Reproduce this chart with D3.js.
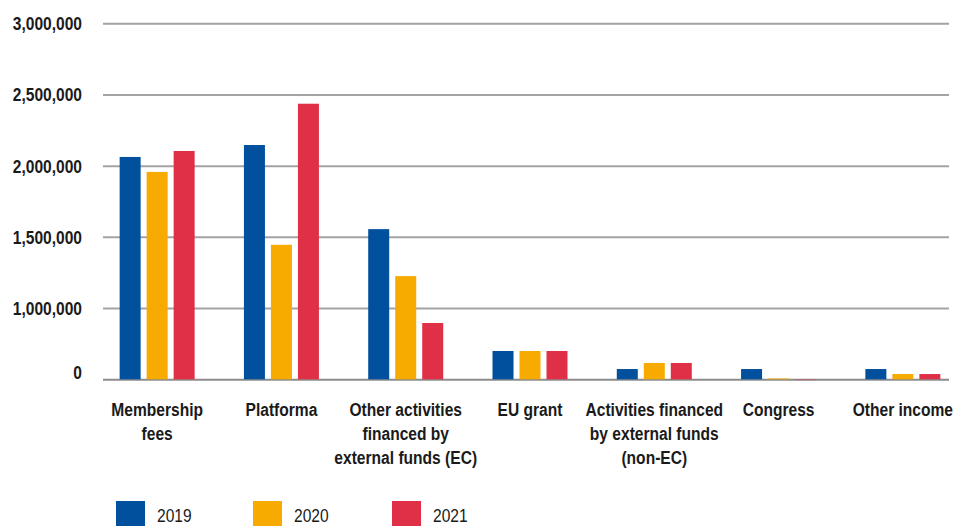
<!DOCTYPE html>
<html>
<head>
<meta charset="utf-8">
<script src="https://cdn.jsdelivr.net/npm/d3@7"></script>
<style>
  body { margin: 0; background: #fff; }
  text { font-family: "Liberation Sans", Arial, sans-serif; fill: #1a1a1a; }
</style>
</head>
<body>
<div id="wrapper"></div>
<script>
const categories = [
  "Membership fees",
  "Platforma",
  "Other activities financed by external funds (EC)",
  "EU grant",
  "Activities financed by external funds (non-EC)",
  "Congress",
  "Other income"
];
// how each category label wraps in the picture
const labelLines = [
  ["Membership", "fees"],
  ["Platforma"],
  ["Other activities", "financed by", "external funds (EC)"],
  ["EU grant"],
  ["Activities financed", "by external funds", "(non-EC)"],
  ["Congress"],
  ["Other income"]
];
const years = ["2019", "2020", "2021"];
const values2019 = [2061000, 2145000, 1554000, 397000, 144000, 144000, 144000];
const values2020 = [1956000, 1444000, 1224000, 397000, 229000, 12000, 74000];
const values2021 = [2103000, 2435000, 790000, 397000, 229000, -12000, 74000];
const colors = ["#00509e", "#f7ab00", "#e03048"];
const tickValues = [0, 1000000, 1500000, 2000000, 2500000, 3000000];

// no condensed face installed, so squeeze the text sideways
const squeeze = 0.82;

function drawBars() {
  let dimensions = {
    width: 953,
    height: 526,
    margin: { top: 23.3, right: 4, bottom: 146.7, left: 103 }
  };
  dimensions.boundedWidth = dimensions.width - dimensions.margin.left - dimensions.margin.right;
  dimensions.boundedHeight = dimensions.height - dimensions.margin.top - dimensions.margin.bottom;

  const dataset = categories.map((c, i) => ({
    category: c,
    lines: labelLines[i],
    values: [values2019[i], values2020[i], values2021[i]]
  }));

  const wrapper = d3.select("#wrapper")
    .append("svg")
      .attr("width", dimensions.width)
      .attr("height", dimensions.height);

  const bounds = wrapper.append("g")
      .attr("transform", `translate(${dimensions.margin.left},${dimensions.margin.top})`);

  // the axis of the original has no 500,000 step, so the scale bends at 1,000,000
  const yScaler = d3.scaleLinear()
    .domain([0, 1000000, 3000000])
    .range([dimensions.boundedHeight, dimensions.boundedHeight - 71.3, 0]);

  const xScaler = d3.scaleBand()
    .domain(categories)
    .range([-8, dimensions.boundedWidth + 16]);

  const subScaler = d3.scaleBand()
    .domain(years)
    .range([xScaler.bandwidth() / 2 - 37.5, xScaler.bandwidth() / 2 + 37.5])
    .paddingInner(6 / 27);

  // gridlines + labels
  const yAxisGenerator = d3.axisLeft(yScaler)
    .tickValues(tickValues)
    .tickSize(-dimensions.boundedWidth)
    .tickPadding(21)
    .tickFormat(d3.format(","));

  const yAxis = bounds.append("g")
    .attr("class", "y-axis")
    .call(yAxisGenerator);
  yAxis.select(".domain").remove();
  yAxis.selectAll("line")
    .attr("stroke", d => d === 0 ? "#8c8c8c" : "#a3a3a3")
    .attr("stroke-width", 2);
  yAxis.selectAll("text")
    .attr("x", 0)
    .attr("transform", `translate(-21,0) scale(${squeeze},1)`)
    .attr("font-size", 19)
    .attr("font-weight", "bold")
    .attr("fill", "#1a1a1a")
    .attr("dy", d => d === 0 ? "-0.05em" : "0.34em");

  // bars
  const groups = bounds.selectAll(".group")
    .data(dataset)
    .join("g")
      .attr("class", "group")
      .attr("transform", d => `translate(${xScaler(d.category)},0)`);

  groups.selectAll("rect")
    .data(d => d.values.map((v, j) => ({ year: years[j], value: v, color: colors[j] })))
    .join("rect")
      .attr("x", d => subScaler(d.year))
      .attr("width", subScaler.bandwidth())
      .attr("y", d => yScaler(Math.max(0, d.value)))
      .attr("height", d => Math.abs(yScaler(d.value) - yScaler(0)))
      .attr("fill", d => d.color)
      .attr("opacity", d => d.value < 0 ? 0.45 : 1);

  // category labels
  const labels = groups.append("text")
    .attr("transform", `translate(${xScaler.bandwidth() / 2},${dimensions.boundedHeight + 36.7}) scale(${squeeze},1)`)
    .attr("text-anchor", "middle")
    .attr("font-size", 19)
    .attr("font-weight", "bold");
  labels.selectAll("tspan")
    .data(d => d.lines)
    .join("tspan")
      .attr("x", 0)
      .attr("dy", (d, i) => i === 0 ? 0 : 24)
      .text(d => d);

  // legend
  const legend = wrapper.append("g")
    .attr("transform", "translate(116,501)");
  const items = legend.selectAll("g")
    .data(years)
    .join("g")
      .attr("transform", (d, i) => `translate(${[0, 137, 276][i]},0)`);
  items.append("rect")
    .attr("width", 29)
    .attr("height", 30)
    .attr("fill", (d, i) => colors[i]);
  items.append("text")
    .attr("transform", `translate(41,21) scale(${squeeze},1)`)
    .attr("font-size", 19)
    .text(d => d);
}

drawBars();
</script>
</body>
</html>
